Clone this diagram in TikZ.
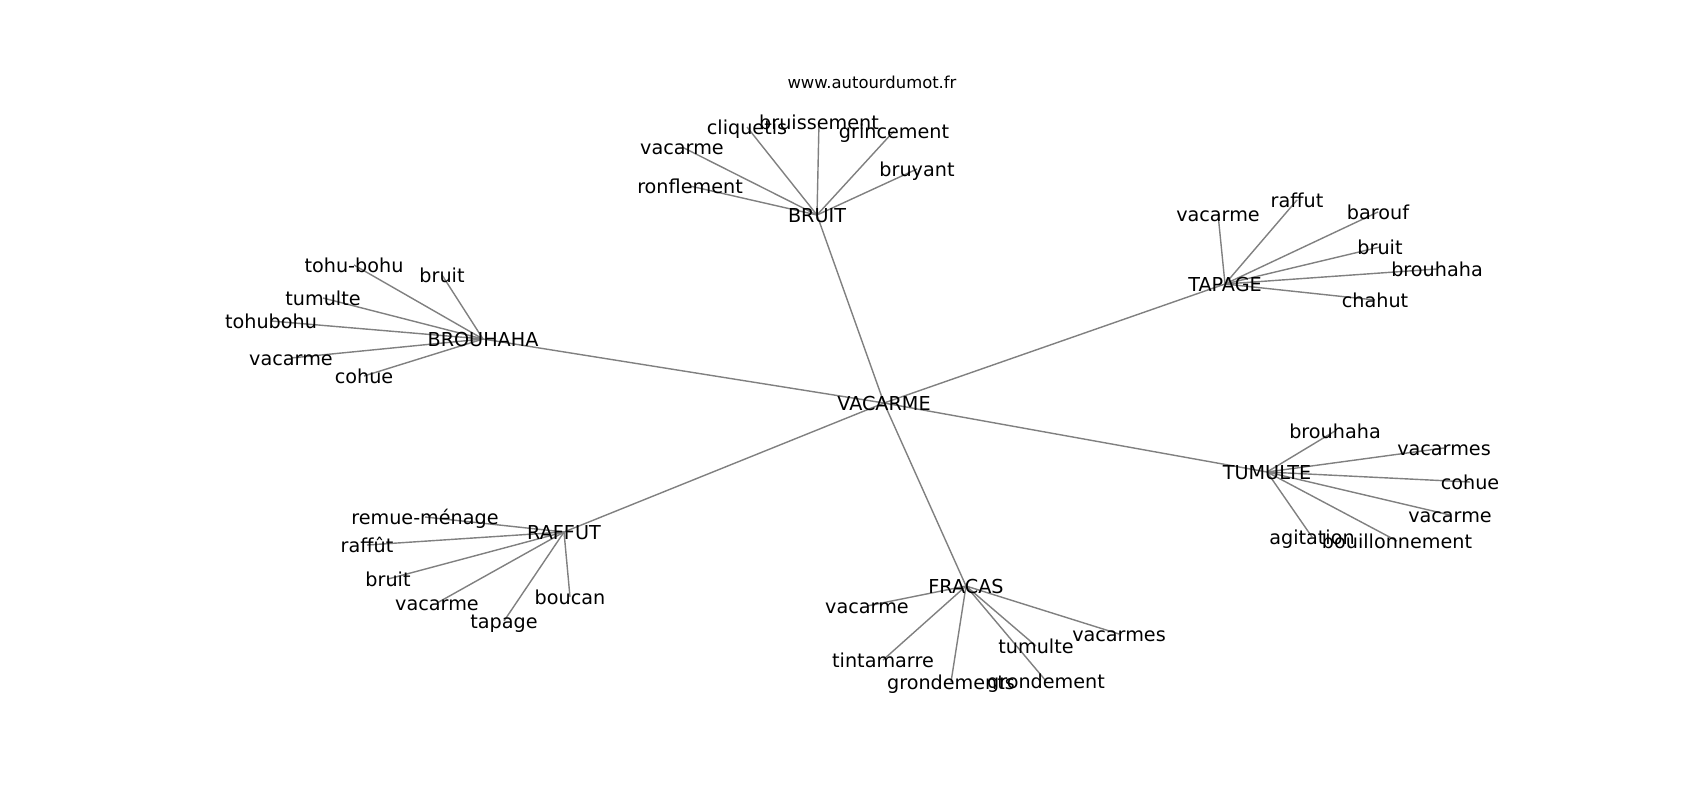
\documentclass[tikz,border=0pt]{standalone}
\usepackage{fontspec}
\setmainfont{DejaVu Sans}
\usetikzlibrary{backgrounds}

\begin{document}
\begin{tikzpicture}[x=0.01cm,y=-0.01cm,
  word/.style={inner sep=0pt,text height=4pt,text depth=0pt,
               font=\fontsize{5.46}{6.5}\selectfont},
  link/.style={draw=gray,line width=0.4pt}]
\useasboundingbox (0,0) rectangle (1700,800);
\node[inner sep=0pt,font=\fontsize{4.67}{5.6}\selectfont] (site) at (872,82) {www.autourdumot.fr};
% centre and hubs
\node[word] (vacarme)  at (884,403) {VACARME};
\node[word] (bruit)    at (817,215) {BRUIT};
\node[word] (brouhaha) at (483,339) {BROUHAHA};
\node[word] (tapage)   at (1225,284) {TAPAGE};
\node[word] (tumulte)  at (1267,472) {TUMULTE};
\node[word] (raffut)   at (564,532) {RAFFUT};
\node[word] (fracas)   at (966,586) {FRACAS};
% BRUIT
\node[word] (bruit-cliq)  at (747,127) {cliquetis};
\node[word] (bruit-bruis) at (819,122) {bruissement};
\node[word] (bruit-grin)  at (894,131) {grincement};
\node[word] (bruit-vac)   at (682,147) {vacarme};
\node[word] (bruit-ronf)  at (690,186) {ronflement};
\node[word] (bruit-bruy)  at (917,169) {bruyant};
% BROUHAHA
\node[word] (brou-tohub) at (354,265) {tohu-bohu};
\node[word] (brou-bruit) at (442,275) {bruit};
\node[word] (brou-tum)   at (323,298) {tumulte};
\node[word] (brou-toh)   at (271,321) {tohubohu};
\node[word] (brou-vac)   at (291,358) {vacarme};
\node[word] (brou-coh)   at (364,376) {cohue};
% TAPAGE
\node[word] (tap-vac)  at (1218,214) {vacarme};
\node[word] (tap-raf)  at (1297,200) {raffut};
\node[word] (tap-bar)  at (1378,212) {barouf};
\node[word] (tap-bru)  at (1380,247) {bruit};
\node[word] (tap-brou) at (1437,269) {brouhaha};
\node[word] (tap-cha)  at (1375,300) {chahut};
% TUMULTE
\node[word] (tum-brou) at (1335,431) {brouhaha};
\node[word] (tum-vacs) at (1444,448) {vacarmes};
\node[word] (tum-coh)  at (1470,482) {cohue};
\node[word] (tum-vac)  at (1450,515) {vacarme};
\node[word] (tum-bou)  at (1397,541) {bouillonnement};
\node[word] (tum-agi)  at (1312,537) {agitation};
% RAFFUT
\node[word] (raf-rem) at (425,517) {remue-ménage};
\node[word] (raf-raf) at (367,545) {raffût};
\node[word] (raf-bru) at (388,579) {bruit};
\node[word] (raf-vac) at (437,603) {vacarme};
\node[word] (raf-tap) at (504,621) {tapage};
\node[word] (raf-bou) at (570,597) {boucan};
% FRACAS
\node[word] (fra-vac)  at (867,606) {vacarme};
\node[word] (fra-tin)  at (883,660) {tintamarre};
\node[word] (fra-gros) at (951,682) {grondements};
\node[word] (fra-gro)  at (1046,681) {grondement};
\node[word] (fra-tum)  at (1036,646) {tumulte};
\node[word] (fra-vacs) at (1119,634) {vacarmes};
% links under the words
\begin{pgfonlayer}{background}
\foreach \n in {bruit,brouhaha,tapage,tumulte,raffut,fracas}
  \draw[link] (vacarme.center) -- (\n.center);
\foreach \n in {cliq,bruis,grin,vac,ronf,bruy}
  \draw[link] (bruit.center) -- (bruit-\n.center);
\foreach \n in {tohub,bruit,tum,toh,vac,coh}
  \draw[link] (brouhaha.center) -- (brou-\n.center);
\foreach \n in {vac,raf,bar,bru,brou,cha}
  \draw[link] (tapage.center) -- (tap-\n.center);
\foreach \n in {brou,vacs,coh,vac,bou,agi}
  \draw[link] (tumulte.center) -- (tum-\n.center);
\foreach \n in {rem,raf,bru,vac,tap,bou}
  \draw[link] (raffut.center) -- (raf-\n.center);
\foreach \n in {vac,tin,gros,gro,tum,vacs}
  \draw[link] (fracas.center) -- (fra-\n.center);
\end{pgfonlayer}
\end{tikzpicture}
\end{document}
